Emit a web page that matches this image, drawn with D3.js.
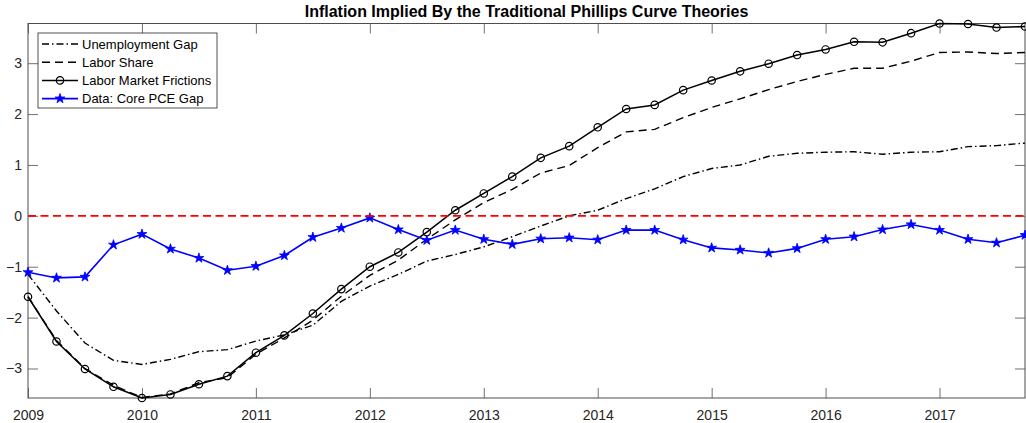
<!DOCTYPE html>
<html>
<head>
<meta charset="utf-8">
<script src="https://cdn.jsdelivr.net/npm/d3@7"></script>
<style>
  body { margin: 0; background: #fff; }
  svg { font-family: "Liberation Sans", Arial, sans-serif; }
</style>
</head>
<body>
<div id="chart"></div>
<script>
"use strict"

// quarterly dates, 2009Q1 .. 2017Q4
var quarters = [2009, 2009.25, 2009.5, 2009.75, 2010, 2010.25, 2010.5, 2010.75,
                2011, 2011.25, 2011.5, 2011.75, 2012, 2012.25, 2012.5, 2012.75,
                2013, 2013.25, 2013.5, 2013.75, 2014, 2014.25, 2014.5, 2014.75,
                2015, 2015.25, 2015.5, 2015.75, 2016, 2016.25, 2016.5, 2016.75,
                2017, 2017.25, 2017.5, 2017.75];

var unemploymentGap = [-1.15, -1.87, -2.50, -2.84, -2.92, -2.82, -2.67, -2.63,
                       -2.46, -2.34, -2.15, -1.68, -1.38, -1.15, -0.89, -0.76,
                       -0.61, -0.41, -0.20, 0.00, 0.11, 0.34, 0.53, 0.77,
                       0.93, 1.00, 1.17, 1.23, 1.25, 1.26, 1.21, 1.25,
                       1.26, 1.36, 1.38, 1.43];

var laborShare = [-1.59, -2.45, -3.00, -3.33, -3.57, -3.50, -3.28, -3.18,
                  -2.72, -2.40, -2.05, -1.58, -1.17, -0.87, -0.46, -0.08,
                  0.26, 0.52, 0.84, 0.99, 1.34, 1.65, 1.70, 1.93,
                  2.13, 2.30, 2.48, 2.64, 2.78, 2.90, 2.90, 3.04,
                  3.21, 3.22, 3.19, 3.21];

var laborFrictions = [-1.59, -2.47, -3.01, -3.36, -3.58, -3.51, -3.31, -3.15,
                      -2.69, -2.35, -1.92, -1.44, -1.00, -0.72, -0.32, 0.11,
                      0.44, 0.77, 1.14, 1.37, 1.74, 2.10, 2.18, 2.47,
                      2.66, 2.84, 2.99, 3.16, 3.27, 3.42, 3.41, 3.59,
                      3.78, 3.77, 3.70, 3.72];

var corePceGap = [-1.11, -1.22, -1.20, -0.57, -0.36, -0.65, -0.83, -1.07,
                  -0.99, -0.78, -0.42, -0.24, -0.04, -0.27, -0.48, -0.28,
                  -0.46, -0.56, -0.45, -0.43, -0.47, -0.28, -0.28, -0.47,
                  -0.63, -0.67, -0.73, -0.64, -0.46, -0.41, -0.27, -0.17,
                  -0.28, -0.46, -0.53, -0.38];

var seriesNames = ["Unemployment Gap", "Labor Share", "Labor Market Frictions", "Data: Core PCE Gap"];
var xTicks = [2009, 2010, 2011, 2012, 2013, 2014, 2015, 2016, 2017];
var yTicks = [-3, -2, -1, 0, 1, 2, 3];
var title = "Inflation Implied By the Traditional Phillips Curve Theories";

// looks of each series (kept apart from the data)
var styles = [
  {color: "#000", width: 1.4, dash: "7,3,1.5,3", marker: null},
  {color: "#000", width: 1.4, dash: "8,5", marker: null},
  {color: "#000", width: 1.5, dash: null, marker: "circle"},
  {color: "#0000ff", width: 1.6, dash: null, marker: "star"}
];

var size = {width: 1026, height: 423};
var margin = {top: 23.5, right: 1, bottom: 25, left: 28};
var inner = {width: size.width - margin.left - margin.right,
             height: size.height - margin.top - margin.bottom};

var svg = d3.select("#chart").append("svg")
    .attr("width", size.width)
    .attr("height", size.height);

var base = svg.append("g")
    .attr("transform", "translate(" + margin.left + "," + margin.top + ")");

// axis tight, like the original
var allValues = unemploymentGap.concat(laborShare, laborFrictions, corePceGap);
var x = d3.scaleLinear().domain([quarters[0], quarters[quarters.length - 1]]).range([0, inner.width]);
var y = d3.scaleLinear().domain([d3.min(allValues), d3.max(allValues)]).range([inner.height, 0]);

var axisColor = "#4d4d4d";

function styleAxis(g, labels) {
  g.select(".domain").remove();
  g.selectAll(".tick line").attr("stroke", axisColor).attr("stroke-width", 0.8);
  g.selectAll(".tick text")
    .attr("fill", "#262626")
    .style("font-size", "14px");
  if (!labels) g.selectAll(".tick text").remove();
}

base.append("g")
    .attr("transform", "translate(0," + inner.height + ")")
    .call(d3.axisBottom(x).tickValues(xTicks).tickFormat(d3.format("d"))
          .tickSizeInner(-10).tickSizeOuter(0).tickPadding(12))
    .call(styleAxis, true);
base.append("g")
    .call(d3.axisTop(x).tickValues(xTicks).tickSizeInner(-10).tickSizeOuter(0))
    .call(styleAxis, false);
base.append("g")
    .call(d3.axisLeft(y).tickValues(yTicks).tickFormat(d3.format("d"))
          .tickSizeInner(-10).tickSizeOuter(0).tickPadding(6))
    .call(styleAxis, true);
base.append("g")
    .attr("transform", "translate(" + inner.width + ",0)")
    .call(d3.axisRight(y).tickValues(yTicks).tickSizeInner(-10).tickSizeOuter(0))
    .call(styleAxis, false);

// box around plot
base.append("rect")
    .attr("width", inner.width)
    .attr("height", inner.height)
    .attr("fill", "none")
    .attr("stroke", axisColor)
    .attr("stroke-width", 1);

var series = [unemploymentGap, laborShare, laborFrictions, corePceGap].map(function(values, i) {
  return {key: seriesNames[i], style: styles[i],
          values: values.map(function(v, j) { return {date: quarters[j], value: v}; })};
});

var line = d3.line()
    .x(function(d) { return x(d.date); })
    .y(function(d) { return y(d.value); });

var star = d3.symbol().type(d3.symbolStar).size(30);

// markers at given pixel points
function drawMarkers(g, points, st) {
  if (st.marker == "circle") {
    g.selectAll("circle").data(points).enter().append("circle")
      .attr("cx", function(p) { return p[0]; })
      .attr("cy", function(p) { return p[1]; })
      .attr("r", 3.7)
      .attr("fill", "none")
      .attr("stroke", st.color)
      .attr("stroke-width", 1.2);
  } else if (st.marker == "star") {
    g.selectAll("path.star").data(points).enter().append("path")
      .attr("class", "star")
      .attr("d", star)
      .attr("transform", function(p) { return "translate(" + p[0] + "," + p[1] + ")"; })
      .attr("fill", st.color)
      .attr("stroke", st.color)
      .attr("stroke-width", 0.8);
  }
}

series.forEach(function(s) {
  var g = base.append("g").attr("class", "series");
  g.append("path")
    .datum(s.values)
    .attr("d", line)
    .attr("fill", "none")
    .attr("stroke", s.style.color)
    .attr("stroke-width", s.style.width)
    .attr("stroke-dasharray", s.style.dash);
  drawMarkers(g, s.values.map(function(d) { return [x(d.date), y(d.value)]; }), s.style);
});

// zero line
base.append("line")
    .attr("x1", 0)
    .attr("x2", inner.width)
    .attr("y1", y(0))
    .attr("y2", y(0))
    .attr("stroke", "#ff0000")
    .attr("stroke-width", 1.6)
    .attr("stroke-dasharray", "8,4.5");

// title
svg.append("text")
    .attr("x", margin.left + inner.width / 2)
    .attr("y", 17)
    .attr("text-anchor", "middle")
    .style("font-size", "16px")
    .style("font-weight", "bold")
    .text(title);

// legend
var legend = svg.append("g").attr("transform", "translate(38,33)");
legend.append("rect")
    .attr("width", 179)
    .attr("height", 75)
    .attr("fill", "#fff")
    .attr("stroke", "#262626")
    .attr("stroke-width", 0.8);

var items = legend.selectAll(".legend-item")
  .data(series)
    .enter().append("g")
      .attr("class", "legend-item")
      .attr("transform", function(d, i) { return "translate(0," + (11 + i * 18.2) + ")"; });
items.append("line")
    .attr("x1", 4)
    .attr("x2", 40)
    .attr("stroke", function(d) { return d.style.color; })
    .attr("stroke-width", function(d) { return d.style.width; })
    .attr("stroke-dasharray", function(d) { return d.style.dash; });
items.each(function(d) {
  drawMarkers(d3.select(this), [[22, 0]], d.style);
});
items.append("text")
    .attr("x", 44)
    .attr("dy", "0.35em")
    .style("font-size", "13px")
    .attr("fill", "#000")
    .text(function(d) { return d.key; });
</script>
</body>
</html>
